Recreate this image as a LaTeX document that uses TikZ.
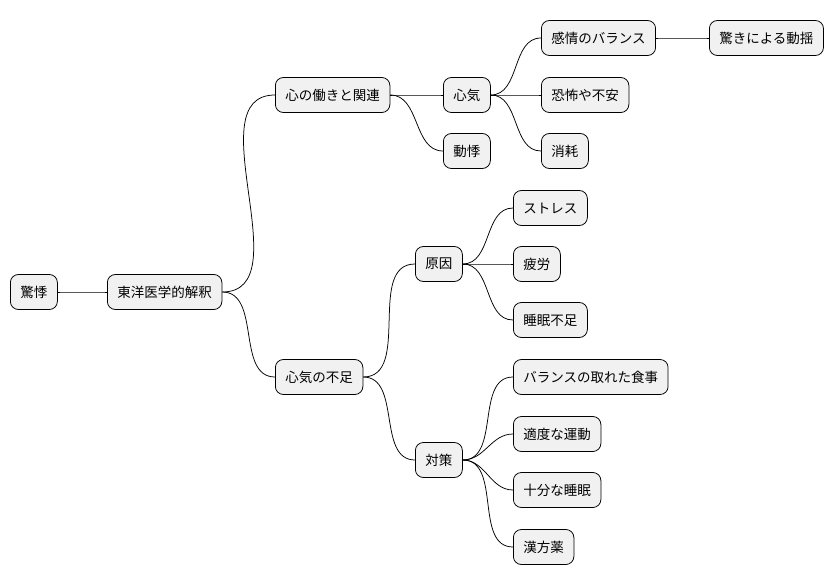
\documentclass[tikz,border=0pt]{standalone}
\usepackage{fontspec}
\newfontfamily\cjk{Noto Sans CJK JP}
\tikzset{every picture/.style={line width=0.75pt}}
\tikzset{
  topic/.style={draw, rounded corners=8pt, fill={rgb,255:red,241;green,241;blue,241},
    minimum height=35pt, inner xsep=10pt, anchor=west, font=\cjk\fontsize{13.5}{15}\selectfont},
  branch/.style={line width=0.75pt}
}
\begin{document}
\begin{tikzpicture}[x=1pt,y=1pt,yscale=-1]
\useasboundingbox (0,0) rectangle (838,583);

% root and first level
\node[topic] (root) at (10,292) {驚悸};
\node[topic] (toyo) at (107,292) {東洋医学的解釈};
\node[topic] (kokoro) at (275,95) {心の働きと関連};
\node[topic] (fusoku) at (275,377) {心気の不足};

% upper branch
\node[topic] (shinki) at (443,95) {心気};
\node[topic] (doki) at (443,151) {動悸};
\node[topic] (kanjo) at (541,38) {感情のバランス};
\node[topic] (odoroki) at (709,38) {驚きによる動揺};
\node[topic] (kyofu) at (541,95) {恐怖や不安};
\node[topic] (shomo) at (541,151) {消耗};

% lower branch
\node[topic] (gen) at (415,264) {原因};
\node[topic] (taisaku) at (415,460) {対策};
\node[topic] (stress) at (513,208) {ストレス};
\node[topic] (hiro) at (513,264) {疲労};
\node[topic] (suimin) at (513,320) {睡眠不足};
\node[topic] (shokuji) at (513,377) {バランスの取れた食事};
\node[topic] (undo) at (513,434) {適度な運動};
\node[topic] (jubun) at (513,490) {十分な睡眠};
\node[topic] (kanpo) at (513,547) {漢方薬};

% connectors
\foreach \a/\b in {root/toyo, toyo/kokoro, toyo/fusoku, kokoro/shinki, kokoro/doki,
  shinki/kanjo, kanjo/odoroki, shinki/kyofu, shinki/shomo, fusoku/gen, fusoku/taisaku,
  gen/stress, gen/hiro, gen/suimin, taisaku/shokuji, taisaku/undo, taisaku/jubun, taisaku/kanpo}
  \draw[branch] (\a.east) to[out=0,in=180] (\b.west);

\end{tikzpicture}
\end{document}
